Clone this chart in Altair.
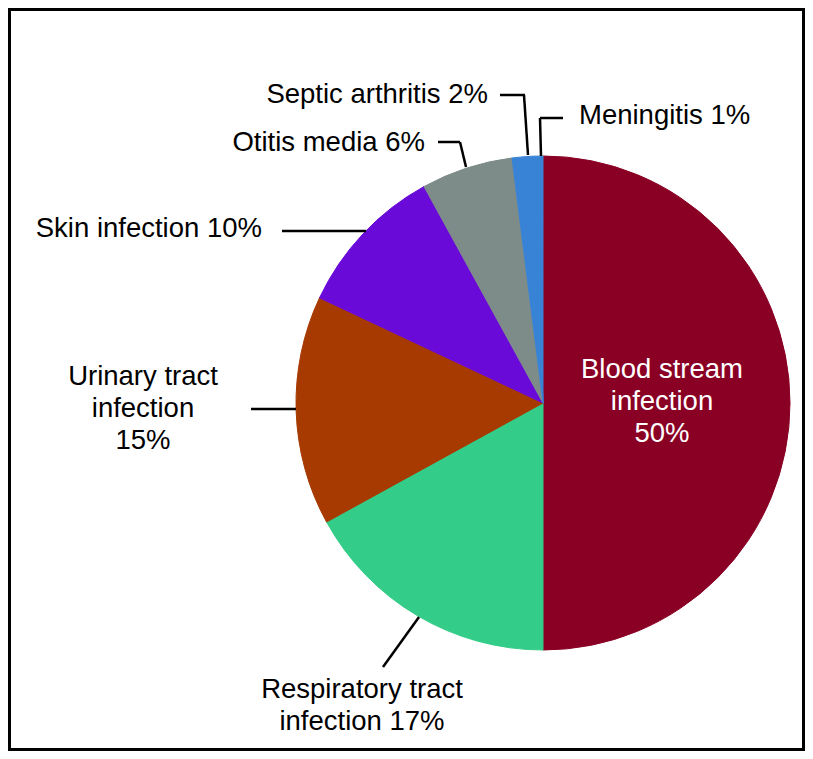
import altair as alt
import pandas as pd

# ---- data ----
categories = ["Blood stream infection", "Respiratory tract infection", "Urinary tract infection",
              "Skin infection", "Otitis media", "Septic arthritis", "Meningitis"]
shares = [50, 17, 15, 10, 6, 1.4, 0.6]
label_texts = ["Blood stream\ninfection\n50%", "Respiratory tract\ninfection 17%",
               "Urinary tract\ninfection\n15%", "Skin infection 10%", "Otitis media 6%",
               "Septic arthritis 2%", "Meningitis 1%"]
colors = ["#8A0024", "#33CC88", "#A63A00", "#6A0AD9", "#7D8B89", "#3883D6", "#3883D6"]

# ---- layout (pixel positions of annotations) ----
CX, CY, R = 535, 395, 247
W, H = 797, 743
FONT = "Liberation Sans"
FS = 27.5

pie_df = pd.DataFrame({"category": categories, "share": shares, "order": list(range(len(categories)))})

label_layout = pd.DataFrame({
    "text": label_texts,
    "lx": [654, 354, 135, 254, 417, 480, 571],
    "ly": [370, 690, 377, 229, 143, 95, 116],
    "align": ["center", "center", "center", "right", "right", "right", "left"],
    "fill": ["white", "black", "black", "black", "black", "black", "black"],
})

leaders = pd.DataFrame({
    "x": [492, 516, 532, 532, 430, 452, 274, 243, 375],
    "y": [87, 87, 110, 110, 134, 134, 223, 401, 659],
    "x2": [517, 520, 555, 533, 452, 458, 358, 288, 411],
    "y2": [87, 147, 110, 148, 134, 159, 223, 401, 609],
})

color_scale = alt.Scale(domain=categories, range=colors)

pie = alt.Chart(pie_df).mark_arc(radius=R, strokeWidth=1).encode(
    theta=alt.Theta("share:Q", stack=True),
    order=alt.Order("order:Q"),
    color=alt.Color("category:N", scale=color_scale, legend=None),
    stroke=alt.Stroke("category:N", scale=color_scale, legend=None),
    x=alt.value(CX),
    y=alt.value(CY),
)

lines = alt.Chart(leaders).mark_rule(color="black", strokeWidth=2.5).encode(
    x=alt.X("x:Q", scale=None), y=alt.Y("y:Q", scale=None),
    x2="x2:Q", y2="y2:Q",
)

def text_layer(align):
    d = label_layout[label_layout["align"] == align].copy()
    d["lines"] = d["text"].str.split("\n")
    return alt.Chart(d).mark_text(
        align=align, baseline="alphabetic", font=FONT, fontSize=FS, lineHeight=32,
    ).encode(
        x=alt.X("lx:Q", scale=None), y=alt.Y("ly:Q", scale=None),
        text="lines",
        color=alt.Color("fill:N", scale=None),
    )

frame = alt.Chart(pd.DataFrame({"a": [0]})).mark_rect(
    fill=None, stroke="black", strokeWidth=3
).encode(x=alt.value(1.5), x2=alt.value(W - 1.5), y=alt.value(1.5), y2=alt.value(H - 1.5))

chart = alt.layer(
    frame, pie, lines, text_layer("center"), text_layer("right"), text_layer("left")
).properties(
    width=W, height=H, autosize=alt.AutoSizeParams(type="none"), padding=0
).configure_view(stroke=None).configure(background="white")

chart.save("out.html", embed_options={"renderer": "svg", "actions": False})
